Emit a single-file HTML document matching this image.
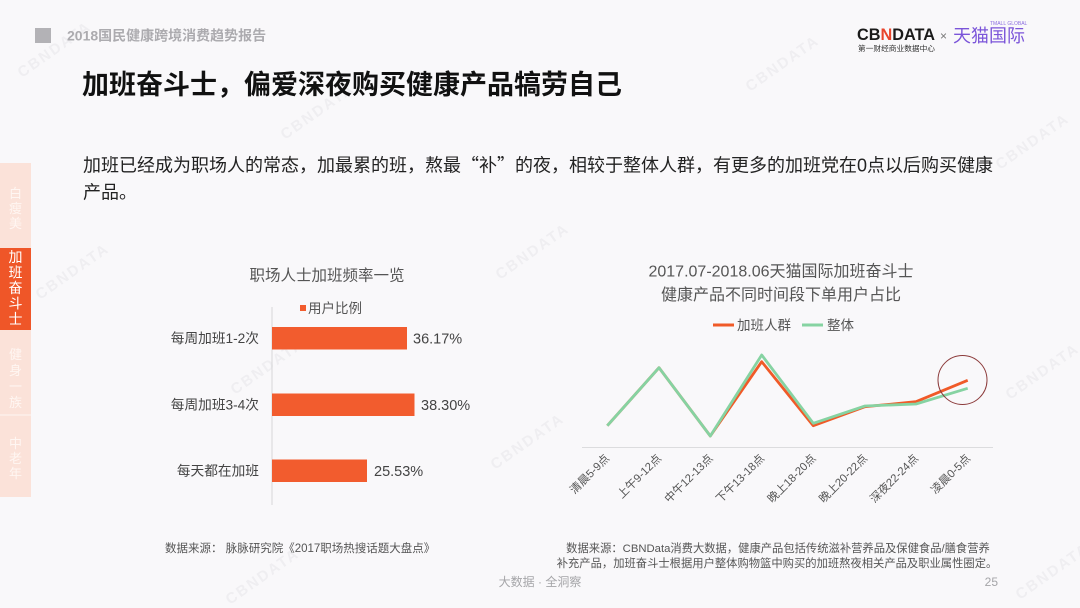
<!DOCTYPE html>
<html>
<head>
<meta charset="utf-8">
<style>
  html,body{margin:0;padding:0;background:#f9f8fa;}
  svg{display:block;}
  text{font-family:"Liberation Sans","Noto Sans CJK SC",sans-serif;}
</style>
</head>
<body>
<svg width="1080" height="608" viewBox="0 0 1080 608" xmlns="http://www.w3.org/2000/svg">
  <rect x="0" y="0" width="1080" height="608" fill="#f9f8fa"/>

  <!-- watermarks -->
  <g fill="#efeef1" font-size="15" font-weight="bold" letter-spacing="2">
    <text transform="translate(22,78) rotate(-35)">CBNDATA</text>
    <text transform="translate(285,140) rotate(-35)">CBNDATA</text>
    <text transform="translate(750,92) rotate(-35)">CBNDATA</text>
    <text transform="translate(1000,170) rotate(-35)">CBNDATA</text>
    <text transform="translate(40,300) rotate(-35)">CBNDATA</text>
    <text transform="translate(500,280) rotate(-35)">CBNDATA</text>
    <text transform="translate(235,395) rotate(-35)">CBNDATA</text>
    <text transform="translate(1010,400) rotate(-35)">CBNDATA</text>
    <text transform="translate(495,470) rotate(-35)">CBNDATA</text>
    <text transform="translate(230,605) rotate(-35)">CBNDATA</text>
    <text transform="translate(1020,600) rotate(-35)">CBNDATA</text>
  </g>

  <!-- header -->
  <rect x="35" y="28" width="16" height="15" fill="#b3b2b6"/>
  <text x="67" y="40.5" font-size="14" font-weight="bold" fill="#acabaf">2018国民健康跨境消费趋势报告</text>

  <!-- logo -->
  <text x="857" y="40" font-size="17" font-weight="bold" fill="#1a1a1a" textLength="78" lengthAdjust="spacingAndGlyphs">CB<tspan fill="#e8452c">N</tspan>DATA</text>
  <text x="858" y="51" font-size="7.5" fill="#333" textLength="77" lengthAdjust="spacingAndGlyphs">第一财经商业数据中心</text>
  <text x="940" y="40" font-size="12" fill="#777">×</text>
  <text x="953" y="42" font-size="18" fill="#7b55d9">天猫国际</text>
  <text x="990" y="25" font-size="5" fill="#8d6fe0">TMALL GLOBAL</text>

  <!-- title -->
  <text x="82" y="94" font-size="27" font-weight="bold" fill="#111">加班奋斗士，偏爱深夜购买健康产品犒劳自己</text>

  <!-- paragraph -->
  <text x="83" y="171.5" font-size="18" fill="#222">加班已经成为职场人的常态，加最累的班，熬最<tspan font-family="Noto Sans CJK SC, sans-serif">“</tspan>补<tspan font-family="Noto Sans CJK SC, sans-serif">”</tspan>的夜，相较于整体人群，有更多的加班党在0点以后购买健康</text>
  <text x="83" y="198.5" font-size="18" fill="#222">产品。</text>

  <!-- side tabs -->
  <rect x="0" y="163" width="31" height="85" fill="#fbe2d9"/>
  <rect x="0" y="248" width="31" height="82" fill="#ef5628"/>
  <rect x="0" y="330" width="31" height="85" fill="#fbe2d9"/>
  <rect x="0" y="415" width="31" height="82" fill="#fbe2d9"/>
  <line x1="0" y1="415" x2="31" y2="415" stroke="#fdf0eb" stroke-width="1.5"/>
  <g font-size="13" fill="#fff6f2" text-anchor="middle">
    <text x="15.5" y="198">白</text><text x="15.5" y="213">瘦</text><text x="15.5" y="228">美</text>
    <text x="15.5" y="359">健</text><text x="15.5" y="375">身</text><text x="15.5" y="391">一</text><text x="15.5" y="407">族</text>
    <text x="15.5" y="448">中</text><text x="15.5" y="463">老</text><text x="15.5" y="478">年</text>
  </g>
  <g font-size="14" fill="#ffffff" text-anchor="middle">
    <text x="15.5" y="262">加</text><text x="15.5" y="277.5">班</text><text x="15.5" y="293">奋</text><text x="15.5" y="308.5">斗</text><text x="15.5" y="324">士</text>
  </g>

  <!-- bar chart -->
  <text x="327" y="280.5" font-size="15.5" fill="#555" text-anchor="middle">职场人士加班频率一览</text>
  <rect x="300" y="305" width="6" height="6" fill="#f25c2e"/>
  <text x="308" y="313" font-size="13.5" fill="#555">用户比例</text>
  <line x1="272" y1="307" x2="272" y2="505" stroke="#d6d6d8" stroke-width="1"/>
  <rect x="272" y="327" width="135" height="22.5" fill="#f25c2e"/>
  <rect x="272" y="393.5" width="142.5" height="22.5" fill="#f25c2e"/>
  <rect x="272" y="459.5" width="95" height="22.5" fill="#f25c2e"/>
  <g font-size="14.5" fill="#444">
    <text x="413" y="343.5">36.17%</text>
    <text x="421" y="410">38.30%</text>
    <text x="374" y="476">25.53%</text>
  </g>
  <g font-size="13.7" fill="#444" text-anchor="end">
    <text x="259" y="343">每周加班1-2次</text>
    <text x="259" y="409.5">每周加班3-4次</text>
    <text x="259" y="475.5">每天都在加班</text>
  </g>

  <!-- line chart -->
  <text x="781" y="276.5" font-size="16" fill="#555" text-anchor="middle">2017.07-2018.06天猫国际加班奋斗士</text>
  <text x="781" y="300" font-size="16" fill="#555" text-anchor="middle">健康产品不同时间段下单用户占比</text>
  <line x1="713" y1="325" x2="734" y2="325" stroke="#f05a28" stroke-width="3"/>
  <text x="737" y="330" font-size="13.5" fill="#555">加班人群</text>
  <line x1="802" y1="325" x2="823" y2="325" stroke="#86d3a2" stroke-width="3"/>
  <text x="827" y="330" font-size="13.5" fill="#555">整体</text>

  <line x1="582" y1="447.5" x2="993" y2="447.5" stroke="#dcdcde" stroke-width="1"/>
  <polyline fill="none" stroke="#f05a28" stroke-width="2.8" stroke-linejoin="round"
    points="607.3,425.7 659,367.7 710.3,436 761.7,361.7 813.3,425.7 865,406.7 916,401.7 967.7,380.3"/>
  <polyline fill="none" stroke="#86d3a2" stroke-width="2.8" stroke-linejoin="round"
    points="607.3,425.7 659,367.7 710.3,436 761.7,355 813.3,423.3 865,406 916,404 967.7,388.3"/>
  <circle cx="962.5" cy="380" r="24.5" fill="none" stroke="#8c3b3b" stroke-width="1"/>

  <g font-size="11.3" fill="#555" text-anchor="end">
    <text transform="translate(610,459) rotate(-45)">清晨5-9点</text>
    <text transform="translate(662,459) rotate(-45)">上午9-12点</text>
    <text transform="translate(713.5,459) rotate(-45)">中午12-13点</text>
    <text transform="translate(765,459) rotate(-45)">下午13-18点</text>
    <text transform="translate(816.5,459) rotate(-45)">晚上18-20点</text>
    <text transform="translate(868,459) rotate(-45)">晚上20-22点</text>
    <text transform="translate(919,459) rotate(-45)">深夜22-24点</text>
    <text transform="translate(971,459) rotate(-45)">凌晨0-5点</text>
  </g>

  <!-- footnotes -->
  <text x="165" y="552" font-size="11.5" fill="#555">数据来源： 脉脉研究院《2017职场热搜话题大盘点》</text>
  <text x="778" y="552" font-size="11.3" fill="#555" text-anchor="middle">数据来源：CBNData消费大数据，健康产品包括传统滋补营养品及保健食品/膳食营养</text>
  <text x="777" y="567" font-size="11.3" fill="#555" text-anchor="middle">补充产品，加班奋斗士根据用户整体购物篮中购买的加班熬夜相关产品及职业属性圈定。</text>

  <text x="540" y="586" font-size="12" fill="#a5a5a8" text-anchor="middle">大数据 · 全洞察</text>
  <text x="998" y="586" font-size="12" fill="#a5a5a8" text-anchor="end">25</text>
</svg>
</body>
</html>
